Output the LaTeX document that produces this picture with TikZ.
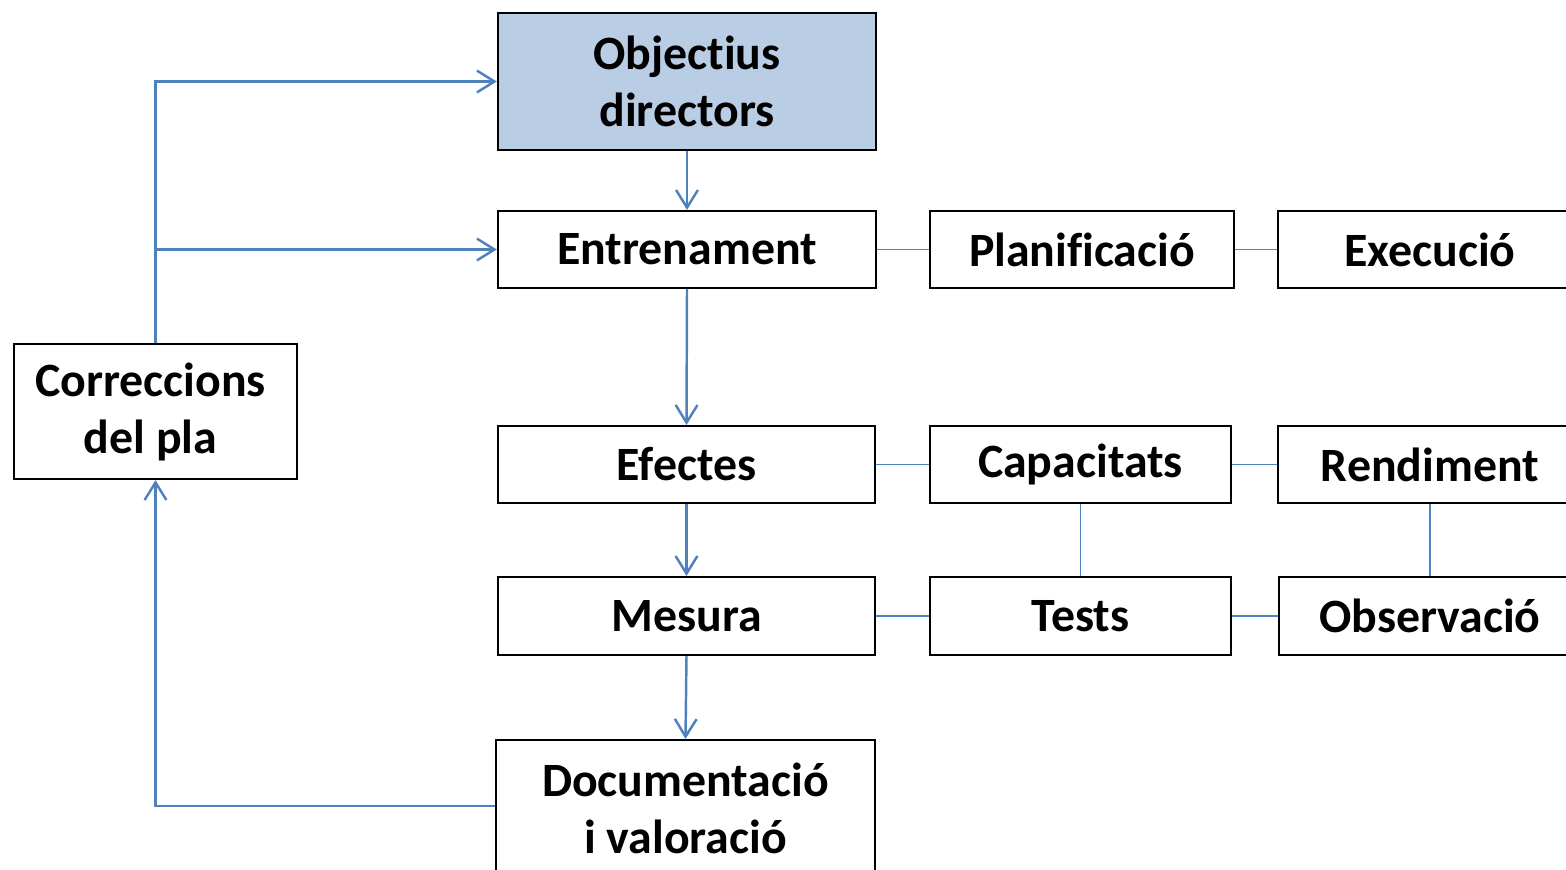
\documentclass[tikz,border=0pt]{standalone}
\usepackage{fontspec}
\setmainfont{Carlito}[Ligatures=NoCommon]
\usetikzlibrary{arrows.meta, positioning, calc}
\usepackage{xcolor}
\definecolor{linkblue}{RGB}{79,129,189}
\definecolor{goalblue}{RGB}{185,205,228}

\tikzset{
    box/.style={draw=black, line width=0.6pt, fill=white, align=center,
        inner sep=0pt, font=\fontsize{13.6}{16.2}\selectfont\bfseries},
    arr/.style={-{Straight Barb[length=5pt,width=6.2pt]}, line width=0.7pt, linkblue},
    link/.style={line width=0.5pt, linkblue}
}

\begin{document}
\begin{tikzpicture}[x=0.01cm, y=-0.01cm]
        \useasboundingbox (0,0) rectangle (1566,869);
        \clip (0,0) rectangle (1566,869);

        % Main column
        \node[box, fill=goalblue, minimum width=3.78cm, minimum height=1.37cm] (obj) at (687,81.5) {Objectius\\directors};
        \node[box, minimum width=3.78cm, minimum height=0.77cm] (ent) at (687,249.5) {Entrenament};
        \node[box, minimum width=3.77cm, minimum height=0.77cm] (efe) at (686.5,464.5) {Efectes};
        \node[box, minimum width=3.77cm, minimum height=0.78cm] (mes) at (686.5,616) {Mesura};
        \node[box, minimum width=3.79cm, minimum height=1.37cm] (doc) at (685.5,808.5) {Documentació\\i valoració};

        % Side boxes
        \node[box, minimum width=3.04cm, minimum height=0.77cm] (plan) at (1082,249.5) {Planificació};
        \node[box, minimum width=3.04cm, minimum height=0.77cm] (exe) at (1430,249.5) {Execució};
        \node[box, minimum width=3.01cm, minimum height=0.77cm] (cap) at (1080.5,464.5) {Capacitats};
        \node[box, minimum width=3.04cm, minimum height=0.77cm] (ren) at (1430,464.5) {Rendiment};
        \node[box, minimum width=3.01cm, minimum height=0.78cm] (tes) at (1080.5,616) {Tests};
        \node[box, minimum width=3.02cm, minimum height=0.78cm] (obs) at (1430,616) {Observació};

        % Feedback box
        \node[box, minimum width=2.83cm, minimum height=1.35cm] (corr) at (155.5,411.5) {Correccions\hspace*{0.1cm}\\del pla\hspace*{0.1cm}};

        % Arrows down
        \draw[arr] (obj.south) -- (ent.north);
        \draw[arr] (ent.south) -- (efe.north);
        \draw[arr] (efe.south) -- (mes.north);
        \draw[arr] (mes.south) -- (doc.north);

        % Feedback loop
        \draw[arr] (doc.west |- 0,806) -| (corr.south);
        \draw[arr] (corr.north) |- (obj.west);
        \draw[arr] (corr.north |- ent.west) -- (ent.west);

        % Plain links
        \draw[link] (ent) -- (plan);
        \draw[link] (plan) -- (exe);
        \draw[link] (efe) -- (cap);
        \draw[link] (cap) -- (ren);
        \draw[link] (mes) -- (tes);
        \draw[link] (tes) -- (obs);
        \draw[link] (cap) -- (tes);
        \draw[link] (ren) -- (obs);
    \end{tikzpicture}
\end{document}
